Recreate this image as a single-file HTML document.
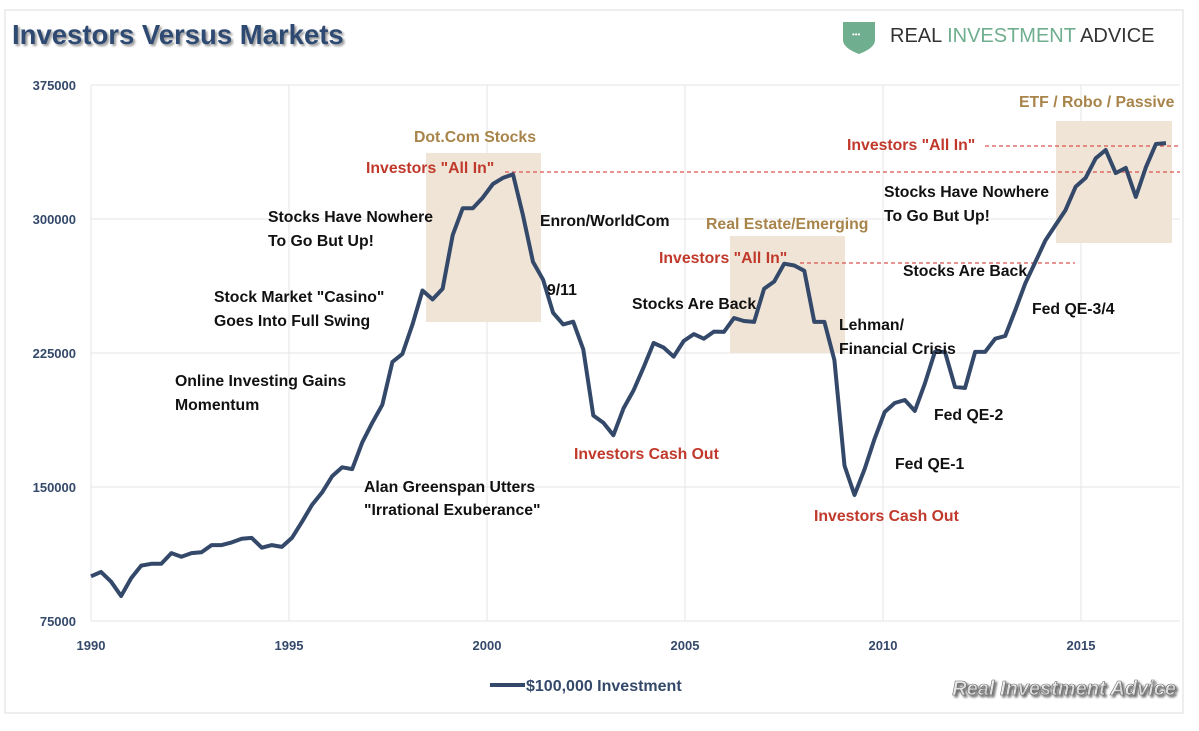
<!DOCTYPE html>
<html><head><meta charset="utf-8"><style>
body{margin:0;background:#fff;width:1199px;height:726px;overflow:hidden;font-family:"Liberation Sans",sans-serif}
svg text{font-family:"Liberation Sans",sans-serif}
</style></head><body>
<svg id="chart" width="1199" height="726">
<rect x="5" y="10" width="1178" height="703" fill="#fff" stroke="#ddd"/>
<text x="12" y="44" font-size="27.5" font-weight="bold" fill="#2e4a72" style="text-shadow:2px 2px 2px #999">Investors Versus Markets</text>
<g>
<path d="M843 22 h32 v18 q0 8 -16 14 q-16 -6 -16 -14z" fill="#6fae8e"/>
<text x="852" y="37" font-size="8" fill="#fff">•••</text>
<text x="890" y="42" font-size="20" fill="#333">REAL <tspan fill="#6fae8e">INVESTMENT</tspan> ADVICE</text>
</g>
<g id="grid"></g>
<g id="boxes"></g>
<g id="ann"></g>
<path id="line" fill="none" stroke="#34496a" stroke-width="4" stroke-linejoin="round"/>
<g id="labels"></g>
<g>
<line x1="490" y1="685" x2="525" y2="685" stroke="#34496a" stroke-width="4"/>
<text x="526" y="691" font-size="16" font-weight="bold" fill="#34496a">$100,000 Investment</text>
</g>
<text x="1176" y="695" text-anchor="end" font-size="20" font-style="italic" font-weight="bold" fill="#fff" stroke="#666" stroke-width="0.6" style="text-shadow:2px 2px 2px #666">Real Investment Advice</text>
</svg>
<script>
const values=[100,102.5,97,89,99,106,107,107,113,111,113,113.5,117.5,117.5,119,121,121.5,116,117.5,116.5,121.5,130.5,140,147,156,161,160,175,186,196,220,224.5,241,260,255,261,291,306,306,312,319.6,323,325,302,276,266,247.5,241,242.5,227,190,186,179,194,204,217,230.6,228,223,231.7,235.6,233,237,236.8,244.6,242.9,242.4,261,265,275,274,271,242.4,242.4,221,162,145.5,160,177,192,197,198.7,192.6,208,225.6,225.6,206,205.4,225.6,225.6,233,234.5,249,264,276,288,296.6,305,318,323,334,338.6,325.7,328.6,312.3,329,342,342.5];
const startYear=1990, step=0.2537;
const xTicks=[1990,1995,2000,2005,2010,2015];
const yTicks=[75000,150000,225000,300000,375000];
const X=y=>91+(y-1990)*39.6;
const Y=v=>621-(v-75000)/75000*134;
const NS="http://www.w3.org/2000/svg";
function mk(tag,attrs,parent,txt){const e=document.createElementNS(NS,tag);for(const k in attrs)e.setAttribute(k,attrs[k]);if(txt)e.textContent=txt;document.getElementById(parent).appendChild(e);return e;}
yTicks.forEach(v=>{
 const e=mk('line',{x1:91,x2:1180,y1:Y(v),y2:Y(v),stroke:'#e4e4e4'},'grid');
 
 
 const t=mk('text',{x:76,y:Y(v)+5,'text-anchor':'end','font-size':13,'font-weight':'bold',fill:'#34496a'},'grid',String(v));
 
 
});
xTicks.forEach(yr=>{
 const e=mk('line',{x1:X(yr),x2:X(yr),y1:85,y2:621,stroke:'#e4e4e4'},'grid');
 
 
 const t=mk('text',{x:X(yr),y:650,'text-anchor':'middle','font-size':13,'font-weight':'bold',fill:'#34496a'},'grid',String(yr));
 
 
});
[[426,153,115,169],[730,236,115,117],[1056,121,116,122]].forEach(b=>{
 const r=mk('rect',{x:b[0],y:b[1],width:b[2],height:b[3],fill:'#efe4d6'},'boxes');
 
 
});
[[505,1180,172],[800,1075,263],[985,1180,146]].forEach(d=>{
 const l=mk('line',{x1:d[0],x2:d[1],y1:d[2],y2:d[2],stroke:'#d9534f','stroke-dasharray':'4,3','stroke-width':1.2},'ann');
 
 
});
let d='';values.forEach((v,i)=>{d+=(i?'L':'M')+X(startYear+i*step).toFixed(1)+' '+Y(v*1000).toFixed(1);});
document.getElementById('line').setAttribute('d',d);
const labels=[
[414,142,'Dot.Com Stocks','#a8844a'],[706,229,'Real Estate/Emerging','#a8844a'],[1019,107,'ETF / Robo / Passive','#a8844a'],
[366,173,'Investors "All In"','#c0392b'],[659,263,'Investors "All In"','#c0392b'],[847,150,'Investors "All In"','#c0392b'],
[574,459,'Investors Cash Out','#c0392b'],[814,521,'Investors Cash Out','#c0392b'],
[268,222,'Stocks Have Nowhere','#111'],[268,246,'To Go But Up!','#111'],[540,226,'Enron/WorldCom','#111'],
[214,302,'Stock Market "Casino"','#111'],[214,326,'Goes Into Full Swing','#111'],[547,295,'9/11','#111'],
[632,309,'Stocks Are Back','#111'],[175,386,'Online Investing Gains','#111'],[175,410,'Momentum','#111'],
[364,492,'Alan Greenspan Utters','#111'],[364,515,'"Irrational Exuberance"','#111'],
[839,330,'Lehman/','#111'],[839,354,'Financial Crisis','#111'],[884,197,'Stocks Have Nowhere','#111'],[884,221,'To Go But Up!','#111'],
[903,276,'Stocks Are Back','#111'],[1032,314,'Fed QE-3/4','#111'],[934,420,'Fed QE-2','#111'],[895,469,'Fed QE-1','#111']];
labels.forEach(l=>{
 const t=mk('text',{x:l[0],y:l[1],'font-size':15.8,'font-weight':'bold',fill:l[3]},'labels',l[2]);
 
 
});
</script>
</body></html>
